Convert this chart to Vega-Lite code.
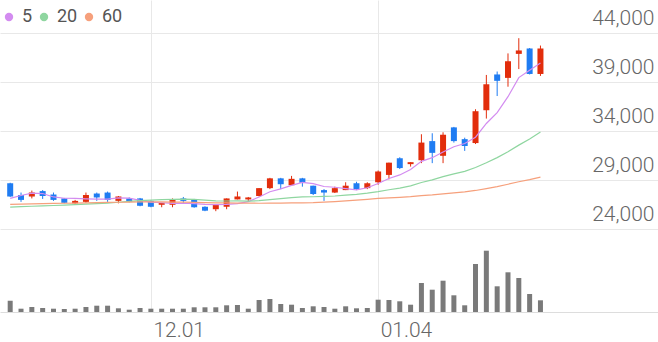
{
"$schema": "https://vega.github.io/schema/vega-lite/v6.json",
"width": 658, "height": 312, "padding": {"left": 0, "top": 0, "right": 0, "bottom": 30}, "autosize": {"type": "none"},
"background": "white",
"config": {"view": {"stroke": null}, "font": "Roboto",
  "legend": {"labelFontSize": 18, "symbolSize": 70}},
"data": {"values": [
{"i":0,"o":28700,"h":28750,"l":27300,"c":27350,"v":113000,"ma5":27150,"ma20":26270,"ma60":26550},
{"i":1,"o":27500,"h":27750,"l":26800,"c":27000,"v":33000,"ma5":27450,"ma20":26310,"ma60":26575},
{"i":2,"o":27350,"h":27950,"l":27150,"c":27750,"v":50000,"ma5":27700,"ma20":26350,"ma60":26600},
{"i":3,"o":27900,"h":28000,"l":27100,"c":27400,"v":40000,"ma5":27650,"ma20":26390,"ma60":26620},
{"i":4,"o":27550,"h":27750,"l":26900,"c":27000,"v":33000,"ma5":27300,"ma20":26430,"ma60":26640},
{"i":5,"o":27150,"h":27200,"l":26650,"c":26700,"v":30000,"ma5":27170,"ma20":26470,"ma60":26660},
{"i":6,"o":26650,"h":27000,"l":26550,"c":26900,"v":33000,"ma5":27150,"ma20":26520,"ma60":26680},
{"i":7,"o":26800,"h":27750,"l":26700,"c":27500,"v":50000,"ma5":27100,"ma20":26570,"ma60":26700},
{"i":8,"o":27650,"h":27750,"l":26900,"c":27250,"v":63000,"ma5":27070,"ma20":26620,"ma60":26720},
{"i":9,"o":27750,"h":27850,"l":26800,"c":27000,"v":63000,"ma5":27070,"ma20":26680,"ma60":26740},
{"i":10,"o":26900,"h":27400,"l":26650,"c":27350,"v":37000,"ma5":27200,"ma20":26760,"ma60":26760},
{"i":11,"o":27150,"h":27250,"l":26750,"c":26800,"v":23000,"ma5":27180,"ma20":26840,"ma60":26775},
{"i":12,"o":27150,"h":27200,"l":26350,"c":26400,"v":40000,"ma5":26960,"ma20":26920,"ma60":26790},
{"i":13,"o":26900,"h":26950,"l":26250,"c":26300,"v":33000,"ma5":26770,"ma20":26980,"ma60":26795},
{"i":14,"o":26500,"h":26700,"l":26250,"c":26700,"v":33000,"ma5":26710,"ma20":27030,"ma60":26790},
{"i":15,"o":26500,"h":27150,"l":26250,"c":27000,"v":33000,"ma5":26640,"ma20":27060,"ma60":26780},
{"i":16,"o":27150,"h":27300,"l":26700,"c":26900,"v":33000,"ma5":26660,"ma20":27070,"ma60":26765},
{"i":17,"o":27050,"h":27100,"l":26200,"c":26250,"v":47000,"ma5":26630,"ma20":27050,"ma60":26745},
{"i":18,"o":26300,"h":26350,"l":25850,"c":25900,"v":47000,"ma5":26550,"ma20":26980,"ma60":26725},
{"i":19,"o":26050,"h":26500,"l":25850,"c":26500,"v":47000,"ma5":26510,"ma20":26900,"ma60":26705},
{"i":20,"o":26300,"h":27150,"l":26050,"c":27150,"v":67000,"ma5":26540,"ma20":26890,"ma60":26690},
{"i":21,"o":27050,"h":27850,"l":27050,"c":27350,"v":70000,"ma5":26630,"ma20":26905,"ma60":26675},
{"i":22,"o":27050,"h":27300,"l":26800,"c":27250,"v":33000,"ma5":26830,"ma20":26880,"ma60":26665},
{"i":23,"o":27400,"h":28200,"l":27350,"c":28200,"v":120000,"ma5":27290,"ma20":26920,"ma60":26660},
{"i":24,"o":28200,"h":29250,"l":28100,"c":29200,"v":130000,"ma5":27830,"ma20":27030,"ma60":26665},
{"i":25,"o":29200,"h":29250,"l":28100,"c":28600,"v":80000,"ma5":28120,"ma20":27125,"ma60":26675},
{"i":26,"o":28500,"h":29450,"l":28450,"c":29150,"v":73000,"ma5":28480,"ma20":27240,"ma60":26690},
{"i":27,"o":29200,"h":29250,"l":28350,"c":28750,"v":40000,"ma5":28780,"ma20":27300,"ma60":26705},
{"i":28,"o":28450,"h":28450,"l":27500,"c":27600,"v":57000,"ma5":28660,"ma20":27320,"ma60":26725},
{"i":29,"o":28000,"h":28100,"l":26900,"c":27750,"v":50000,"ma5":28370,"ma20":27355,"ma60":26770},
{"i":30,"o":27750,"h":28350,"l":27700,"c":28200,"v":33000,"ma5":28290,"ma20":27400,"ma60":26830},
{"i":31,"o":28000,"h":28800,"l":28000,"c":28450,"v":57000,"ma5":28150,"ma20":27480,"ma60":26900},
{"i":32,"o":28700,"h":28850,"l":28000,"c":28100,"v":37000,"ma5":28020,"ma20":27565,"ma60":26970},
{"i":33,"o":28200,"h":28800,"l":28100,"c":28700,"v":40000,"ma5":28240,"ma20":27685,"ma60":27060},
{"i":34,"o":28800,"h":30000,"l":28550,"c":29900,"v":123000,"ma5":28670,"ma20":27845,"ma60":27150},
{"i":35,"o":29550,"h":30800,"l":29100,"c":30800,"v":120000,"ma5":29190,"ma20":28035,"ma60":27213},
{"i":36,"o":31250,"h":31350,"l":30150,"c":30250,"v":107000,"ma5":29550,"ma20":28205,"ma60":27267},
{"i":37,"o":30650,"h":30850,"l":30400,"c":30850,"v":73000,"ma5":30100,"ma20":28435,"ma60":27331},
{"i":38,"o":31050,"h":33700,"l":30750,"c":32850,"v":290000,"ma5":30930,"ma20":28780,"ma60":27429},
{"i":39,"o":33000,"h":33800,"l":30750,"c":31800,"v":223000,"ma5":31310,"ma20":29045,"ma60":27509},
{"i":40,"o":31500,"h":33900,"l":30750,"c":33650,"v":313000,"ma5":31880,"ma20":29370,"ma60":27620},
{"i":41,"o":34400,"h":34450,"l":32850,"c":33000,"v":167000,"ma5":32430,"ma20":29655,"ma60":27720},
{"i":42,"o":33200,"h":33350,"l":32000,"c":32500,"v":67000,"ma5":32760,"ma20":29915,"ma60":27812},
{"i":43,"o":32800,"h":36250,"l":32700,"c":36050,"v":480000,"ma5":33400,"ma20":30310,"ma60":27963},
{"i":44,"o":36150,"h":39750,"l":35300,"c":38800,"v":613000,"ma5":34800,"ma20":30790,"ma60":28160},
{"i":45,"o":39800,"h":40100,"l":37600,"c":39150,"v":257000,"ma5":35900,"ma20":31315,"ma60":28363},
{"i":46,"o":39450,"h":41950,"l":38550,"c":41150,"v":397000,"ma5":37530,"ma20":31915,"ma60":28599},
{"i":47,"o":41900,"h":43500,"l":40350,"c":42250,"v":340000,"ma5":39480,"ma20":32590,"ma60":28853},
{"i":48,"o":42450,"h":42500,"l":39800,"c":39850,"v":180000,"ma5":40240,"ma20":33205,"ma60":29067},
{"i":49,"o":39850,"h":42750,"l":39650,"c":42450,"v":117000,"ma5":40970,"ma20":33940,"ma60":29324}
]},
"encoding": {
  "x": {"field": "i", "type": "quantitative",
    "scale": {"domain": [-0.48, 59.4], "nice": false, "zero": false},
    "axis": {"values": [13, 34], "labelExpr": "datum.value == 13 ? '12.01' : '01.04'",
      "grid": true, "gridColor": "#e8e8e8", "domain": true, "domainColor": "#dddddd",
      "ticks": false, "labelAlign": "left", "labelOffset": 2, "labelPadding": 7,
      "labelBaseline": "top", "labelFontSize": 21, "labelFont": "Roboto", "labelFontWeight": 300,
      "labelColor": "#666666", "labelFlush": false, "title": null}}
},
"layer": [
  {"mark": {"type": "bar", "size": 5, "color": "#7a7a7a"},
   "encoding": {"y": {"field": "v", "type": "quantitative", "scale": {"domain": [0, 3120000], "nice": false}, "axis": null}}},
  {"layer": [
    {"mark": {"type": "rule", "strokeWidth": 1},
     "encoding": {
       "y": {"field": "l", "type": "quantitative",
         "scale": {"domain": [15562, 47398], "nice": false, "zero": false},
         "axis": {"orient": "right", "values": [24000, 29000, 34000, 39000, 44000], "format": ",d",
           "domain": false, "ticks": false, "tickSize": 0, "labelPadding": -4, "labelAlign": "right",
           "labelBaseline": "middle", "labelOffset": -15, "labelFontSize": 21, "labelFont": "Roboto",
           "labelFontWeight": 300, "labelColor": "#666666", "grid": true, "gridColor": "#e8e8e8", "title": null}},
       "y2": {"field": "h"},
       "color": {"condition": {"test": "datum.c >= datum.o", "value": "#e22d0c"}, "value": "#1f7cf2"}}},
    {"mark": {"type": "bar", "size": 6},
     "encoding": {
       "y": {"field": "o", "type": "quantitative"},
       "y2": {"field": "c"},
       "color": {"condition": {"test": "datum.c >= datum.o", "value": "#e22d0c"}, "value": "#1f7cf2"}}},
    {"transform": [{"fold": ["ma5", "ma20", "ma60"], "as": ["ma", "p"]}],
     "mark": {"type": "line", "strokeWidth": 1.2},
     "encoding": {
       "y": {"field": "p", "type": "quantitative"},
       "color": {"field": "ma", "type": "nominal",
         "scale": {"domain": ["ma5", "ma20", "ma60"], "range": ["#d38cf0", "#8fd6a0", "#f6a07c"]},
         "legend": {"orient": "none", "legendX": 0, "legendY": 8, "direction": "horizontal", "title": null,
           "symbolType": "circle", "symbolSize": 70, "symbolStrokeWidth": 0, "symbolOpacity": 1,
           "labelFontSize": 18, "labelFontWeight": 400, "labelColor": "#555555", "labelFont": "Roboto",
           "columnPadding": 2, "gridAlign": "none",
           "labelOffset": 4, "labelExpr": "replace(datum.label, 'ma', '')",
           "encode": {"symbols": {"update": {"fill": {"scale": "color", "field": "value"}}},
                      "labels": {"update": {"fontSize": {"value": 18}}}}}}}}
  ]}
],
"resolve": {"scale": {"y": "independent"}}
}
